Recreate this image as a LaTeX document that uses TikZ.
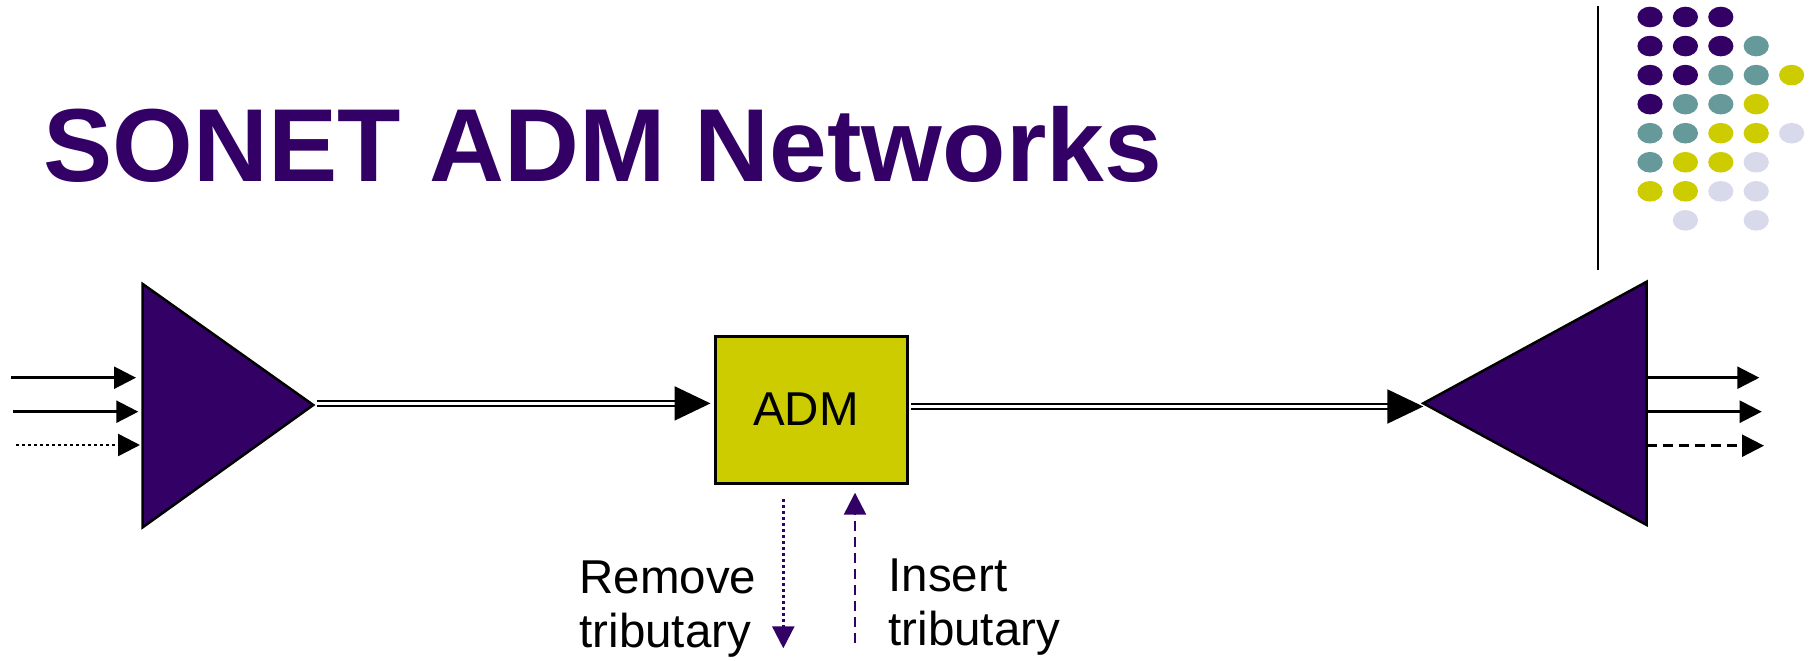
\documentclass[tikz,border=0pt]{standalone}
\usepackage{fontspec}
\setmainfont{Liberation Sans}
\usetikzlibrary{arrows.meta}
\definecolor{dpurple}{HTML}{330066}
\definecolor{teal}{HTML}{669999}
\definecolor{olive}{HTML}{CCCC00}
\definecolor{lav}{HTML}{D9D9EC}
\tikzset{
  tri/.style={fill=dpurple, draw=black, line width=1pt, line join=miter},
  inarrow/.style={draw=black, line width=1pt, -{Triangle[length=8.8pt,width=8.8pt]}},
  dline/.style={draw=black, line width=0.8pt, double=white, double distance=1.3pt},
  bigtip/.style={draw=black, -{Triangle[length=14.4pt,width=13.6pt]}, line width=0.8pt},
  tribarrow/.style={draw=dpurple, line width=1pt, -{Triangle[length=8.8pt,width=8.8pt]}},
  admbox/.style={fill=olive, draw=black, line width=1.2pt, minimum width=76.8pt, minimum height=58.8pt, inner sep=0pt},
  body/.style={font=\fontsize{19}{21.5}\selectfont, inner sep=0pt, align=left},
  mydots/.style={dash pattern=on 1.2pt off 1.2pt},
  mydash/.style={dash pattern=on 4pt off 2.4pt},
}
\begin{document}
\begin{tikzpicture}[x=0.4pt,y=-0.4pt]
\useasboundingbox (0,0) rectangle (1811,660);
% title
\node[anchor=base west, inner sep=0pt, text=dpurple, font=\fontsize{41.5}{48}\selectfont\bfseries] (title) at (43,181) {SONET ADM Networks};
% vertical rule
\coordinate (vt) at (1598,6);
\coordinate (vb) at (1598,270);
\draw[line width=0.8pt] (vt) -- (vb);
% dots
\def\none{none}
\foreach \r/\list in {0/{dpurple,dpurple,dpurple,none,none},
                      1/{dpurple,dpurple,dpurple,teal,none},
                      2/{dpurple,dpurple,teal,teal,olive},
                      3/{dpurple,teal,teal,olive,none},
                      4/{teal,teal,olive,olive,lav},
                      5/{teal,olive,olive,lav,none},
                      6/{olive,olive,lav,lav,none},
                      7/{none,lav,none,lav,none}}{
  \foreach \c [count=\i from 0] in \list {
    \pgfmathsetmacro{\xx}{1650+35.4*\i}
    \pgfmathsetmacro{\yy}{17+29.05*\r}
    \ifx\c\none\else
      \fill[\c] (\xx,\yy) ellipse [x radius=12.6, y radius=10.3];
    \fi
  }
}
% left triangle
\coordinate (lt) at (142.7,284);
\coordinate (lb) at (142.7,527.3);
\coordinate (la) at (313.3,405);
\path[tri] (lt) -- (lb) -- (la) -- cycle;
% right triangle
\coordinate (rt) at (1646.7,281.7);
\coordinate (rb) at (1646.7,525);
\coordinate (ra) at (1423.3,403.3);
% ADM box
\node[admbox, body] (adm) at (811,409.5) {ADM\hspace*{4pt}};
% double lines
\coordinate (l1s) at (316.7,403.4);
\coordinate (l1e) at (adm.west |- l1s);
\draw[dline, shorten >=13pt] (l1s) -- (l1e);
\draw[bigtip] ([xshift=-13pt]l1e) -- ([xshift=-1.2pt]l1e);
\coordinate (l2s) at (adm.east |- 0,406.5);
\coordinate (l2e) at (ra |- l2s);
\draw[dline, shorten >=13pt] ([xshift=1pt]l2s) -- (l2e);
\path[tri] (rt) -- (rb) -- (ra) -- cycle;
\draw[bigtip] ([xshift=-13pt]l2e) -- (l2e);
% input arrows
\coordinate (i1s) at (11,377.7);   \coordinate (i1e) at (136,377.7);
\coordinate (i2s) at (13.3,411.7); \coordinate (i2e) at (138.3,411.7);
\coordinate (i3s) at (16,445);     \coordinate (i3e) at (140,445);
\draw[inarrow] (i1s) -- (i1e);
\draw[inarrow] (i2s) -- (i2e);
\draw[inarrow, mydots] (i3s) -- (i3e);
% output arrows
\coordinate (o1s) at (1646.7,377.7); \coordinate (o1e) at (1759.3,377.7);
\coordinate (o2s) at (1646.7,411.7); \coordinate (o2e) at (1761.7,411.7);
\coordinate (o3s) at (1646.7,445.7); \coordinate (o3e) at (1764,445.7);
\draw[inarrow] (o1s) -- (o1e);
\draw[inarrow] (o2s) -- (o2e);
\draw[inarrow, mydash] (o3s) -- (o3e);
% tributary arrows
\coordinate (rems) at (783.3,499);  \coordinate (reme) at (783.3,648.3);
\coordinate (inss) at (855,643);    \coordinate (inse) at (855,492.7);
\draw[tribarrow, mydots] (rems) -- (reme);
\draw[tribarrow, mydash] (inss) -- (inse);
% labels (base = last line)
\node[body, anchor=base west] (remove) at (579,647) {Remove\\tributary};
\node[body, anchor=base west] (insert) at (888,645) {Insert\\tributary};
\end{tikzpicture}
\end{document}
